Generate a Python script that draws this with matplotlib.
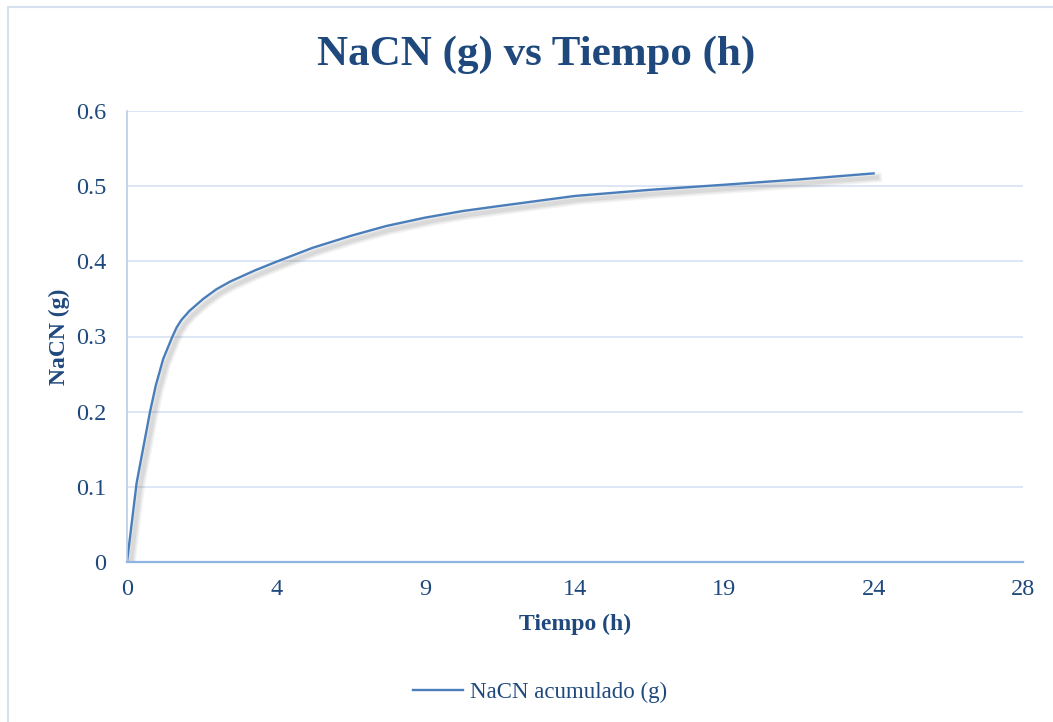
import matplotlib.pyplot as plt
import matplotlib.patheffects as pe
from matplotlib.patches import Rectangle
from matplotlib.lines import Line2D
import numpy as np

# NaCN acumulado en el tiempo (posiciones sobre el eje de tiempo)
tiempo = [0, 0.3, 0.72, 0.9, 1.13, 1.4, 1.55, 1.7, 1.95, 2.38, 2.8, 3.22, 4.0, 4.7,
          5.8, 7.0, 8.1, 9.3, 10.5, 11.7, 14.0, 16.3, 18.7, 21.0, 23.33]
nacn = [0, 0.105, 0.20, 0.235, 0.270, 0.298, 0.312, 0.322, 0.334, 0.350, 0.363, 0.373, 0.388, 0.400,
        0.418, 0.434, 0.447, 0.458, 0.467, 0.474, 0.487, 0.495, 0.502, 0.509, 0.517]

x_labels = ['0', '4', '9', '14', '19', '24', '28']
y_ticks = [0, 0.1, 0.2, 0.3, 0.4, 0.5, 0.6]
y_labels = ['0', '0.1', '0.2', '0.3', '0.4', '0.5', '0.6']

text_color = '#1F497D'
line_color = '#4A7EBB'
grid_color = '#D9E4F4'

plt.rcParams['font.family'] = ['Liberation Serif', 'DejaVu Serif']

fig = plt.figure(figsize=(10.53, 7.22), dpi=100)
ax = fig.add_axes([127 / 1053, 1 - 562 / 722, 896 / 1053, 451 / 722])

# borde del area del grafico
fig.patches.append(Rectangle((8 / 1053, -0.1), 1.2, 1.1 - 7 / 722, transform=fig.transFigure,
                             fill=False, edgecolor='#D6E0EE', linewidth=1.5))

# sombra difusa bajo la curva
shadow = [pe.SimpleLineShadow(offset=(2.5, -3), shadow_color='#707070', alpha=a, linewidth=w)
          for a, w in [(0.07, 7), (0.09, 5), (0.12, 3)]]
ax.plot(tiempo, nacn, color=line_color, linewidth=1.7,
        path_effects=shadow + [pe.Normal()], solid_joinstyle='round')

ax.set_xlim(0, 28)
ax.set_ylim(0, 0.6)
ax.set_xticks(np.linspace(0, 28, 7))
ax.set_xticklabels(x_labels)
ax.set_yticks(y_ticks)
ax.set_yticklabels(y_labels)
ax.tick_params(axis='both', length=0, labelsize=17.5, labelcolor=text_color)
ax.tick_params(axis='y', pad=15)
ax.tick_params(axis='x', pad=12)

ax.grid(axis='y', color=grid_color, linewidth=1.3)
ax.set_axisbelow(True)
for side in ['top', 'right']:
    ax.spines[side].set_visible(False)
ax.spines['left'].set_color('#B9CDE5')
ax.spines['left'].set_linewidth(1.2)
ax.spines['bottom'].set_color('#8EB4E3')
ax.spines['bottom'].set_linewidth(1.6)

ax.set_xlabel('Tiempo (h)', fontsize=17, fontweight='bold', color=text_color, labelpad=10)
ax.set_ylabel('NaCN (g)', fontsize=17, fontweight='bold', color=text_color, labelpad=4)

fig.text(536 / 1053, 1 - 55 / 722, 'NaCN (g) vs Tiempo (h)', ha='center', va='center',
         fontsize=31, fontweight='bold', color=text_color)

handle = Line2D([], [], color=line_color, linewidth=1.7)
leg = fig.legend([handle], ['NaCN acumulado (g)'], loc='center',
                 bbox_to_anchor=(540 / 1053, 1 - 692 / 722), frameon=False,
                 fontsize=16.5, handlelength=2.2, handletextpad=0.3)
for t in leg.get_texts():
    t.set_color(text_color)

plt.savefig('out.png', dpi=100)
